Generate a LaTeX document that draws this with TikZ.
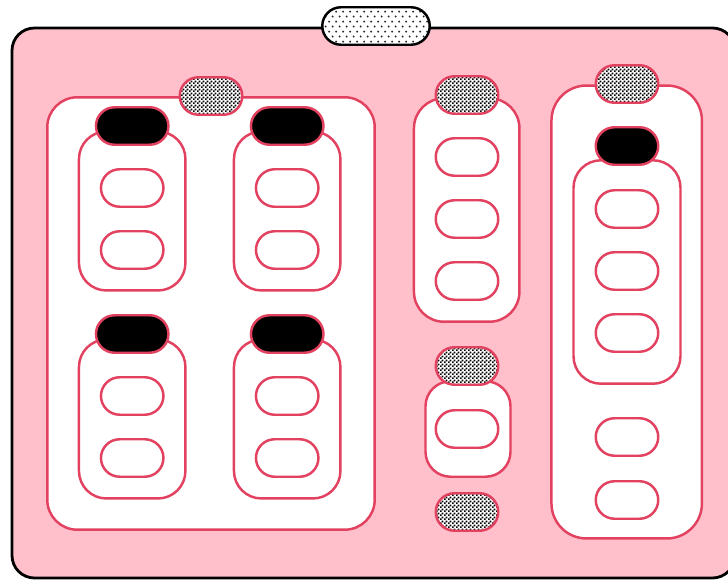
\documentclass[tikz,border=0pt]{standalone}
\usepackage{tikz}
\usetikzlibrary{shapes.misc, patterns.meta}

\definecolor{boardpink}{RGB}{255,192,203}
\definecolor{rimred}{RGB}{226,66,96}

\tikzdeclarepattern{
  name=finecheck,
  type=uncolored,
  bounding box={(0,0) and (2.3pt,2.3pt)},
  tile size={(2.3pt,2.3pt)},
  code={
    \fill (0,0) rectangle (1.15pt,1.15pt);
    \fill (1.15pt,1.15pt) rectangle (2.3pt,2.3pt);
  }
}
\tikzdeclarepattern{
  name=sparsedots,
  type=uncolored,
  bounding box={(0,0) and (4.2pt,5.6pt)},
  tile size={(4.2pt,5.6pt)},
  code={
    \fill (1.05pt,1.4pt) circle (0.62pt);
    \fill (3.15pt,4.2pt) circle (0.62pt);
  }
}

\begin{document}
\begin{tikzpicture}[x=0.02cm, y=-0.02cm,
  pill/.style={rounded rectangle, draw=rimred, line width=1.4pt, fill=white,
    minimum width=1.25cm, minimum height=0.75cm, inner sep=0pt},
  lock/.style={pill, fill=black},
  tab/.style={pill, preaction={fill=white}, pattern=finecheck, pattern color=black},
  box/.style={draw=rimred, line width=1.4pt, fill=white, inner sep=0pt, rounded corners=0.55cm}]
  \useasboundingbox (0,0) rectangle (728,580);

  % board
  \draw[fill=boardpink, draw=black, line width=1.6pt, rounded corners=0.45cm] (12,28) rectangle (735,578);
  \node[pill, draw=black, minimum width=2.15cm, preaction={fill=white}, pattern=sparsedots, pattern color=black!85] (lid) at (376,26) {};

  % left group
  \node[box, minimum width=6.55cm, minimum height=8.65cm, rounded corners=0.6cm] (grpA) at (211,313.5) {};
  \foreach \x/\y/\n in {132.2/211/1, 287.2/211/2, 132.2/419/3, 287.2/419/4} {
    \node[box, minimum width=2.13cm, minimum height=3.18cm] (cell\n) at (\x,\y) {};
    \node[lock, minimum width=1.45cm] (cap\n) at (\x,\y-85) {};
    \node[pill] (slot\n a) at (\x,\y-23) {};
    \node[pill] (slot\n b) at (\x,\y+39) {};
  }
  \node[tab] (tabA) at (211,96) {};

  % middle groups
  \node[box, minimum width=2.11cm, minimum height=4.47cm, rounded corners=0.6cm] (grpB) at (466.7,210) {};
  \foreach \y/\n in {157/1, 219/2, 281/3} {\node[pill] (slotB\n) at (467,\y) {};}
  \node[tab] (tabB) at (467,95) {};

  \node[box, minimum width=1.7cm, minimum height=1.91cm, rounded corners=0.5cm] (grpC) at (468,429) {};
  \node[pill] (slotC) at (467,429) {};
  \node[tab] (tabC) at (467,366) {};
  \node[tab] (tabC2) at (467,512) {};

  % right group
  \node[box, minimum width=3.01cm, minimum height=9.06cm, rounded corners=0.7cm] (grpD) at (626.7,312) {};
  \node[box, minimum width=2.14cm, minimum height=4.47cm] (cellD) at (627,272) {};
  \node[lock] (capD) at (627,146) {};
  \foreach \y/\n in {209/1, 271/2, 333/3, 437/4, 500/5} {\node[pill] (slotD\n) at (627,\y) {};}
  \node[tab] (tabD) at (627,84) {};
\end{tikzpicture}
\end{document}
